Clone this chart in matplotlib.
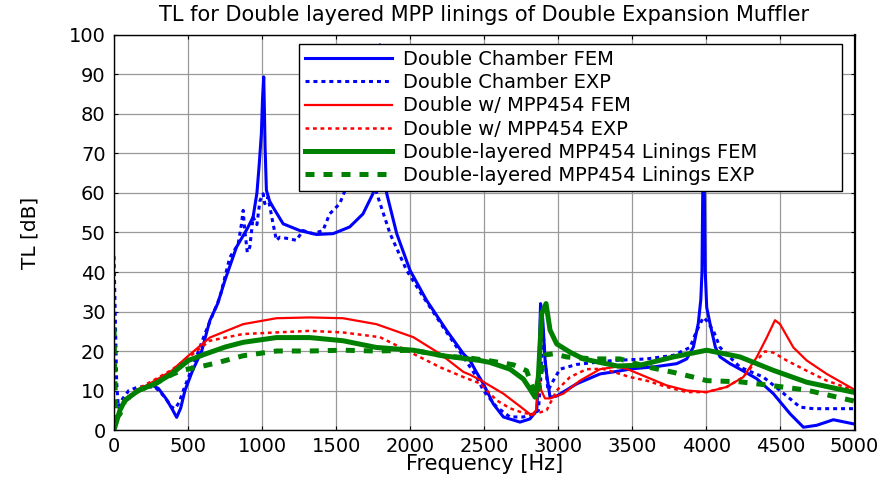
"""Transmission loss comparison for double expansion muffler linings."""
import matplotlib
matplotlib.use("Agg")
import matplotlib.pyplot as plt

# Double chamber, FEM
chamber_fem_freq = [0, 40, 74, 164, 250, 300, 350, 390, 423, 450, 479, 530, 592, 647, 700, 750, 827, 900,
                    939, 965, 980, 995, 1003, 1011, 1016, 1020, 1029, 1050, 1074, 1142, 1254, 1366, 1479,
                    1591, 1681, 1748, 1771, 1785, 1795, 1810, 1825, 1841, 1909, 1999, 2111, 2246, 2359,
                    2404, 2449, 2494, 2561, 2629, 2741, 2808, 2854, 2868, 2880, 2895, 2910, 2921, 2944,
                    2989, 3050, 3124, 3282, 3371, 3500, 3650, 3800, 3867, 3912, 3945, 3962, 3970, 3975,
                    3980, 3986, 3992, 4002, 4024, 4060, 4092, 4159, 4227, 4339, 4452, 4565, 4655, 4745,
                    4857, 5000]
chamber_fem_tl = [0, 5, 7.5, 10, 11.5, 10.5, 8, 5.5, 3.2, 5.5, 10, 15, 20, 27.7, 32, 38, 46.3, 51,
                  53.9, 60, 67, 75, 84, 89.4, 80, 71.7, 60.7, 58, 56.4, 52.2, 50.5, 49.5, 49.7,
                  51.4, 54.7, 59.8, 64, 80, 97.5, 80, 68, 59.9, 49.7, 40.4, 32.8, 25.2, 19.3,
                  17.6, 14.5, 11.7, 6.6, 3.3, 2.0, 2.8, 4.9, 15, 32, 28, 18, 14.2, 8.3,
                  8.6, 10, 11.7, 14.2, 14.7, 15.5, 16, 16.8, 18, 21, 27, 33, 40, 60,
                  95, 60, 40, 31, 27, 21, 18.5, 16.8, 15.4, 13, 9.2, 4.1, 0.7, 1.2,
                  2.6, 1.5]

# Double chamber, measured
chamber_exp_freq = [0, 8, 18, 29, 60, 100, 164, 277, 344, 389, 412, 440, 468, 547, 614, 715, 782, 838,
                    860, 872, 883, 900, 917, 939, 965, 985, 1007, 1018, 1030, 1040, 1074, 1097, 1119,
                    1187, 1231, 1276, 1344, 1411, 1456, 1524, 1569, 1636, 1700, 1740, 1774, 1864, 1976,
                    2088, 2223, 2359, 2449, 2494, 2584, 2674, 2764, 2831, 2865, 2880, 2895, 2910, 2930,
                    2966, 3011, 3124, 3371, 3596, 3776, 3889, 3934, 3979, 4001, 4047, 4092, 4227, 4384,
                    4497, 4632, 4722, 5000]
chamber_exp_tl = [44, 30, 12, 5.8, 8, 10, 10.9, 10.9, 8.3, 5.8, 5.4, 7, 10, 17.6, 24.4, 33.6, 43.7, 47,
                  52, 55.6, 50.5, 45, 46.3, 53.9, 52, 58, 59.8, 57.3, 58, 59, 52.2, 48, 48.8,
                  48.4, 48, 50.5, 49.7, 50.5, 54.7, 57.3, 61.5, 65.7, 68, 66, 59.9, 49.7, 40.4,
                  33.7, 26, 18.5, 13.4, 10, 5.8, 3.3, 3.3, 4.1, 4.9, 12, 26, 18, 10,
                  12.5, 15.4, 16.6, 17.6, 18, 18.9, 20.9, 25.1, 28.5, 27.7, 25.1, 20.9, 15.9, 13.4,
                  10, 5.8, 5.4, 5.4]

# Double chamber with MPP454, FEM
mpp_fem_freq = [0, 40, 74, 164, 277, 389, 490, 647, 872, 1097, 1321, 1546, 1771, 2021, 2201, 2359,
                2404, 2471, 2629, 2741, 2820, 2850, 2870, 2885, 2910, 2944, 3034, 3146, 3282, 3390,
                3461, 3596, 3731, 3867, 4001, 4137, 4249, 4339, 4407, 4463, 4497, 4587, 4677, 4812,
                5000]
mpp_fem_tl = [0, 5, 7.5, 10.2, 12.5, 15, 18.4, 23.4, 26.8, 28.3, 28.5, 28.3, 26.8, 23.5, 19.3, 14.7,
              14, 12.7, 9.2, 6, 3.7, 5, 13, 10, 8, 8, 9.2, 12.5, 15.4, 16,
              15.5, 13.4, 11.3, 10, 9.6, 10.9, 13.4, 18.4, 23.4, 27.8, 26.8, 20.9, 17.6, 14.2,
              10.2]

# Double chamber with MPP454, measured
mpp_exp_freq = [0, 40, 74, 164, 277, 389, 490, 647, 872, 1097, 1321, 1546, 1796, 2021, 2201, 2359,
                2471, 2584, 2674, 2764, 2831, 2880, 2921, 2989, 3079, 3191, 3300, 3416, 3484, 3596,
                3731, 3867, 4001, 4137, 4249, 4339, 4395, 4452, 4542, 4677, 4812, 5000]
mpp_exp_tl = [2, 5, 7.8, 10.5, 12.8, 15.2, 18, 22.6, 24.3, 24.7, 25.1, 24.7, 23.5, 19.3, 15.9, 13.4,
              11.8, 7.5, 5.5, 4.3, 4, 4.5, 5, 10, 13.4, 15.4, 15.5, 14.2, 13.4, 12.5,
              10.9, 9.6, 9.6, 10.9, 13.4, 17.6, 19.9, 19.6, 17.6, 15, 12.5, 10]

# Double-layered MPP454 linings, FEM
layered_fem_freq = [0, 40, 74, 164, 277, 389, 502, 614, 750, 872, 1097, 1321, 1546, 1771, 2021, 2220,
                    2471, 2539, 2674, 2764, 2808, 2843, 2865, 2888, 2917, 2944, 2989, 3079, 3169, 3282,
                    3400, 3552, 3777, 4002, 4227, 4452, 4677, 5000]
layered_fem_tl = [0, 5, 7.5, 10, 11.7, 14.2, 17.6, 19.2, 21, 22.2, 23.4, 23.4, 22.6, 20.9, 20.2, 18.8,
                  17.6, 17.1, 15.4, 12.9, 10.4, 8.3, 13.4, 29.5, 32, 25.3, 21.8, 19.7, 18, 17.1,
                  16.2, 16.4, 18.5, 20.2, 18.5, 15.1, 12.1, 9.5]

# Double-layered MPP454 linings, measured
layered_exp_freq = [0, 5, 12, 40, 74, 164, 277, 389, 457, 614, 704, 872, 1097, 1321, 1546, 1771, 2021,
                    2220, 2404, 2539, 2697, 2786, 2831, 2854, 2880, 2910, 2966, 3056, 3236, 3416, 3596,
                    3776, 3934, 4002, 4227, 4452, 4677, 5000]
layered_exp_tl = [26, 15, 3, 4, 7.5, 10, 11.7, 14, 15.1, 16.3, 17.1, 18.8, 20, 20, 20.2, 20, 20.2,
                  18.8, 18.2, 17.5, 16.5, 15, 10.4, 8.5, 14, 19, 19.3, 18.5, 18, 18, 16,
                  14.6, 13.2, 12.5, 12.2, 11.2, 10.1, 7.3]

series_labels = [
    "Double Chamber FEM",
    "Double Chamber EXP",
    "Double w/ MPP454 FEM",
    "Double w/ MPP454 EXP",
    "Double-layered MPP454 Linings FEM",
    "Double-layered MPP454 Linings EXP",
]
x_ticks = [0, 500, 1000, 1500, 2000, 2500, 3000, 3500, 4000, 4500, 5000]
y_ticks = [0, 10, 20, 30, 40, 50, 60, 70, 80, 90, 100]


def main():
    """Draw the TL comparison and save it to out.png."""
    plt.rcParams["font.family"] = ["DejaVu Sans"]

    fig = plt.figure(figsize=(8.92, 4.78), dpi=100)
    ax = fig.add_axes([0.1278, 0.1004, 0.8302, 0.8264])

    ax.plot(chamber_fem_freq, chamber_fem_tl, color="#0000ff", lw=2.2, label=series_labels[0])
    ax.plot(chamber_exp_freq, chamber_exp_tl, color="#0000ff", lw=2.2, dashes=(1.3, 1.3),
            label=series_labels[1])
    ax.plot(mpp_fem_freq, mpp_fem_tl, color="#ff0000", lw=1.6, label=series_labels[2])
    ax.plot(mpp_exp_freq, mpp_exp_tl, color="#ff0000", lw=1.8, dashes=(1.5, 1.5),
            label=series_labels[3])
    ax.plot(layered_fem_freq, layered_fem_tl, color="#008000", lw=3.6, label=series_labels[4])
    ax.plot(layered_exp_freq, layered_exp_tl, color="#008000", lw=3.6, dashes=(1.8, 1.8),
            label=series_labels[5])

    ax.set_xlim(0, 5000)
    ax.set_ylim(0, 100)
    ax.set_xticks(x_ticks)
    ax.set_yticks(y_ticks)
    ax.tick_params(direction="in", length=3, width=0.8, top=True, right=True, labelsize=14)
    ax.tick_params(axis="x", pad=5)
    ax.tick_params(axis="y", pad=6)
    ax.grid(True, color="#999999", lw=0.9)
    for side in ("left", "bottom", "top"):
        ax.spines[side].set_linewidth(1.0)
    ax.spines["right"].set_linewidth(1.6)

    ax.set_title("TL for Double layered MPP linings of Double Expansion Muffler", fontsize=15, pad=10)
    ax.set_xlabel("Frequency [Hz]", fontsize=15)
    ax.set_ylabel("TL [dB]", fontsize=14.5)
    ax.xaxis.set_label_coords(0.5, -0.062)
    ax.yaxis.set_label_coords(-0.1, 0.5)

    leg = ax.legend(loc="upper left", bbox_to_anchor=(0.2498, 0.6025, 0.7333, 0.3747), mode="expand",
                    borderaxespad=0, fontsize=14, handlelength=4.5, handletextpad=0.55,
                    labelspacing=0.22, borderpad=0.3, fancybox=False, framealpha=1)
    leg.get_frame().set_edgecolor("black")
    leg.get_frame().set_linewidth(1.0)

    fig.savefig("out.png", dpi=100)
    plt.close(fig)


if __name__ == "__main__":
    main()
